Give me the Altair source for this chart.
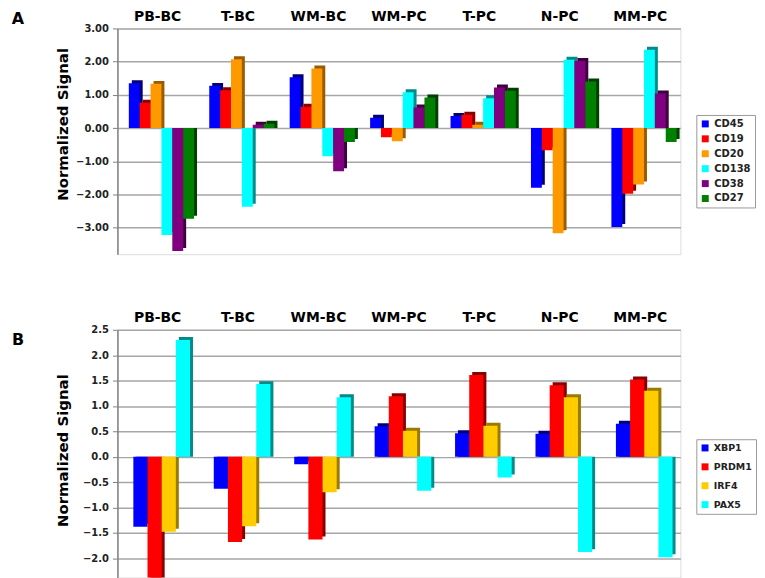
import altair as alt
import pandas as pd

categories = ["PB-BC", "T-BC", "WM-BC", "WM-PC", "T-PC", "N-PC", "MM-PC"]

# Panel A (surface markers)
markers_a = ["CD45", "CD19", "CD20", "CD138", "CD38", "CD27"]
cd45 = [1.35, 1.27, 1.53, 0.31, 0.36, -1.80, -2.98]
cd19 = [0.76, 1.14, 0.64, -0.28, 0.40, -0.67, -1.98]
cd20 = [1.33, 2.07, 1.79, -0.40, 0.10, -3.17, -1.70]
cd138 = [-3.22, -2.37, -0.85, 1.08, 0.90, 2.06, 2.36]
cd38 = [-3.70, 0.10, -1.30, 0.62, 1.22, 2.02, 1.04]
cd27 = [-2.73, 0.13, -0.42, 0.92, 1.12, 1.40, -0.42]
colors_a = ["#0000FF", "#FF0000", "#FF9900", "#00FFFF", "#800080", "#008000"]
dark_a = ["#00007A", "#8A0000", "#9A5C00", "#008A8A", "#3F003F", "#003F00"]
ticks_a = [3.0, 2.0, 1.0, 0.0, -1.0, -2.0, -3.0]

# Panel B (transcription factors)
markers_b = ["XBP1", "PRDM1", "IRF4", "PAX5"]
xbp1 = [-1.38, -0.63, -0.15, 0.60, 0.46, 0.45, 0.65]
prdm1 = [-2.70, -1.68, -1.63, 1.19, 1.61, 1.41, 1.52]
irf4 = [-1.48, -1.37, -0.70, 0.51, 0.61, 1.17, 1.30]
pax5 = [2.30, 1.43, 1.17, -0.67, -0.41, -1.88, -1.98]
colors_b = ["#0000FF", "#FF0000", "#FFCC00", "#00FFFF"]
dark_b = ["#00007A", "#8A0000", "#9A7A00", "#008A8A"]
ticks_b = [2.5, 2.0, 1.5, 1.0, 0.5, 0.0, -0.5, -1.0, -1.5, -2.0]

FONT = "DejaVu Sans"
W = 566
STEP = W / len(categories)


def build_df(markers, series, darks):
    rows = []
    for m, vals, d in zip(markers, series, darks):
        for c, v in zip(categories, vals):
            rows.append({"cat": c, "marker": m, "val": v, "dark": d})
    return pd.DataFrame(rows)


def panel(df, markers, colors, ydom, yvals, fmt, height, letter, letter_y,
          legx, legy, rowpad, title_y, pad_outer, align, legfont):
    x = alt.X("cat:N", sort=categories, title=None,
              scale=alt.Scale(paddingInner=0, paddingOuter=0), axis=None)
    xo = alt.XOffset("marker:N", sort=markers,
                     scale=alt.Scale(paddingInner=0, paddingOuter=pad_outer,
                                     align=align))
    xo_sh = alt.XOffset("marker:N", sort=markers,
                        scale=alt.Scale(paddingInner=0, paddingOuter=pad_outer,
                                        align=align, range=[3, STEP + 3]))
    y = alt.Y("val:Q", title="Normalized Signal",
              scale=alt.Scale(domain=ydom, nice=False, zero=False),
              axis=alt.Axis(values=yvals, format=fmt, grid=True,
                            gridColor="#A6A6A6", gridWidth=1.5,
                            domainColor="#808080", domainWidth=1.5,
                            tickColor="#808080", tickSize=5,
                            labelFont=FONT, labelFontSize=10,
                            labelFontWeight="bold", labelColor="#222",
                            labelPadding=4, titleFont=FONT, titleFontSize=15,
                            titleFontWeight="bold", titleColor="#000",
                            titleX=-55, titleY=title_y, titleAngle=270,
                            titleAlign="center", titleBaseline="middle"))
    base = alt.Chart(df)
    shadow = base.mark_bar(yOffset=-3, clip=True).encode(
        x=x, xOffset=xo_sh, y=y, y2=alt.datum(0),
        color=alt.Color("dark:N", scale=None))
    bars = base.mark_bar(clip=True).encode(
        x=x, xOffset=xo, y=y, y2=alt.datum(0),
        color=alt.Color("marker:N", sort=markers,
                        scale=alt.Scale(domain=markers, range=colors),
                        legend=alt.Legend(title=None, orient="none",
                                          legendX=legx, legendY=legy,
                                          symbolType="square", symbolSize=49,
                                          symbolStrokeWidth=0, labelFont=FONT,
                                          labelFontSize=legfont,
                                          labelFontWeight="bold",
                                          labelColor="#222", strokeColor="#999",
                                          fillColor="white", padding=4,
                                          rowPadding=rowpad, labelOffset=4)))
    catlab = alt.Chart(pd.DataFrame({"cat": categories})).mark_text(
        font=FONT, fontSize=14, fontWeight="bold", color="#000",
        align="center", baseline="middle").encode(
        x=x, text="cat:N", y=alt.value(-11.5))
    lab = alt.Chart(pd.DataFrame({"t": [letter]})).mark_text(
        font=FONT, fontSize=16, fontWeight="bold", color="#000",
        align="center", baseline="middle").encode(
        text="t:N", x=alt.value(-100), y=alt.value(letter_y))
    return alt.layer(shadow, bars, catlab, lab).resolve_scale(
        xOffset="independent").properties(width=W, height=height)


df_a = build_df(markers_a, [cd45, cd19, cd20, cd138, cd38, cd27], dark_a)
df_b = build_df(markers_b, [xbp1, prdm1, irf4, pax5], dark_b)

pa = panel(df_a, markers_a, colors_a, [-3.8, 3.0], ticks_a, ".2f", 227,
           "A", -9.5, 582, 87, 5, 96, 0.7, 0.75, 10)
pb = panel(df_b, markers_b, colors_b, [-2.38, 2.5], ticks_b, ".1f", 249,
           "B", 10, 582, 110, 8, 121, 0.84, 0.67, 9.5)

chart = alt.vconcat(pa, pb, spacing=56).resolve_scale(
    color="independent", x="independent", y="independent",
    xOffset="independent").resolve_legend(color="independent").properties(
    padding={"left": 3, "top": 0, "right": 0, "bottom": 0}
).configure_view(stroke=None).configure(background="white")

chart.save("out.html", embed_options={"renderer": "svg", "actions": False})
